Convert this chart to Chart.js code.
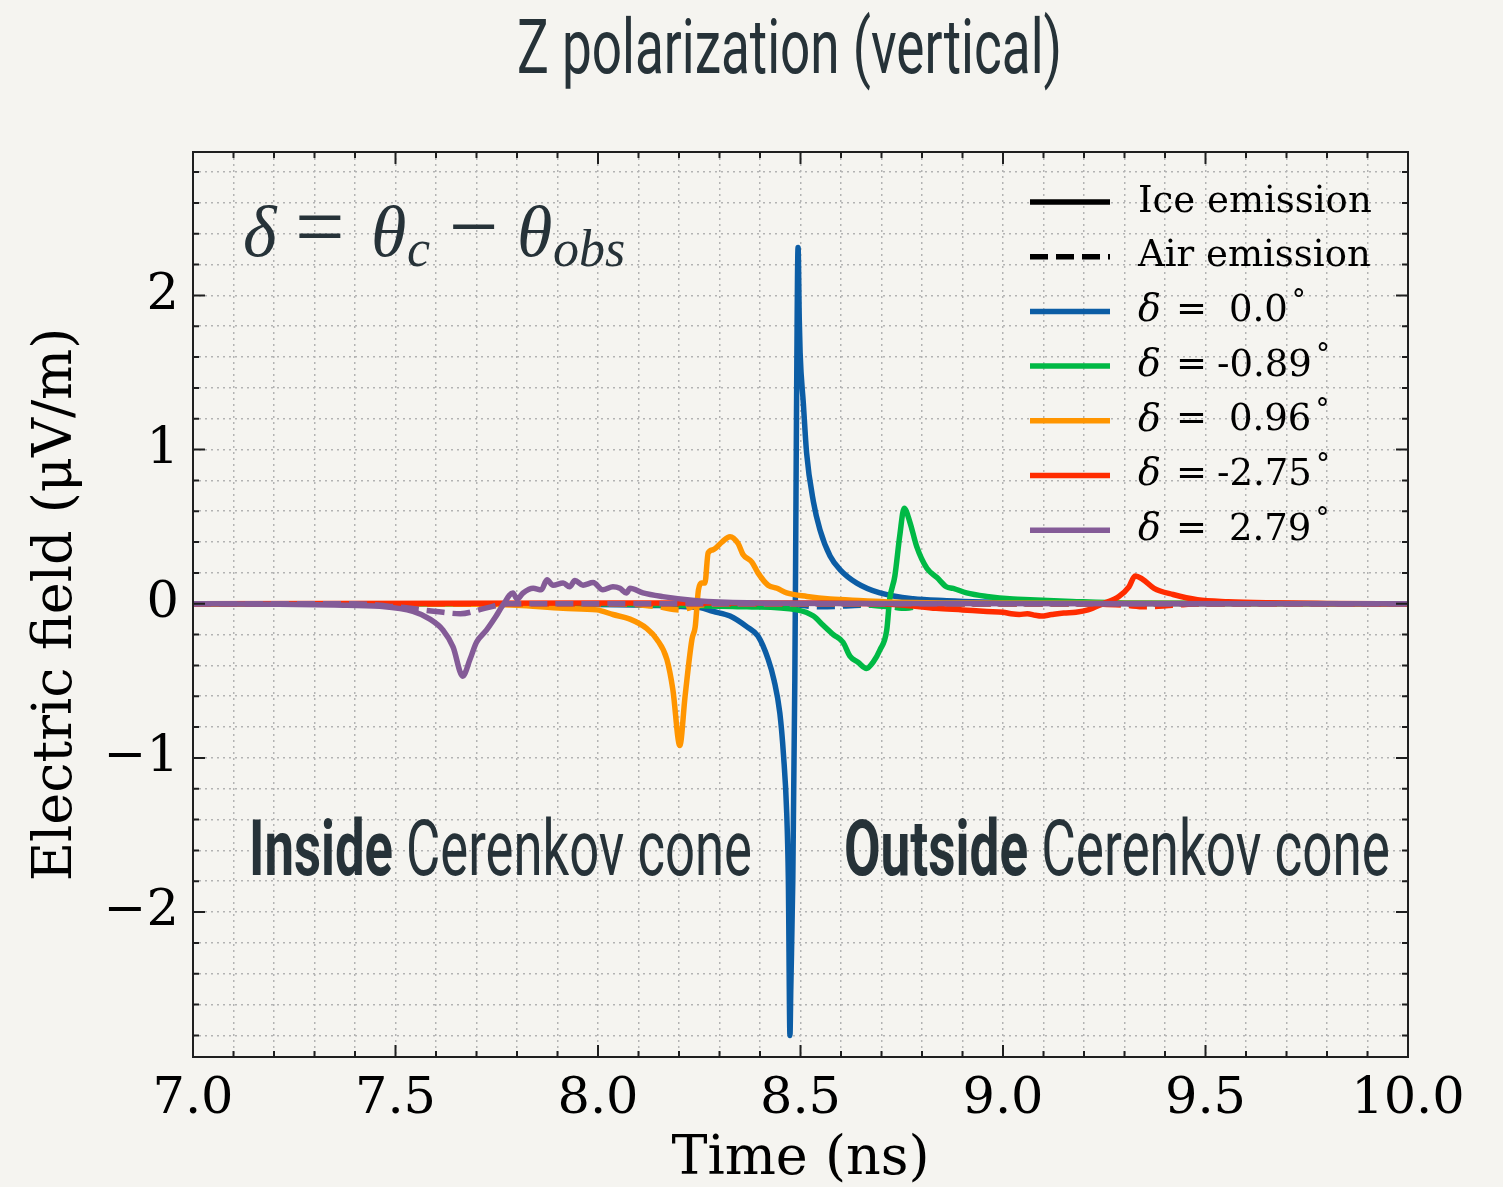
<!DOCTYPE html>
<html>
<head>
<meta charset="utf-8">
<script src="https://cdn.jsdelivr.net/npm/chart.js@4.4.1/dist/chart.umd.min.js"></script>
<style>
  html, body { margin: 0; padding: 0; background: #f5f4f0; }
  #chart { display: block; }
</style>
</head>
<body>
<canvas id="chart" width="1503" height="1187"></canvas>
<script>
// ---- data ----
var xMajorTicks = [7.0, 7.5, 8.0, 8.5, 9.0, 9.5, 10.0];
var xTickLabels = ['7.0', '7.5', '8.0', '8.5', '9.0', '9.5', '10.0'];
var yMajorTicks = [-2, -1, 0, 1, 2];
var yTickLabels = ['\u22122', '\u22121', '0', '1', '2'];

var deltaLabels = ['0.0', '-0.89', '0.96', '-2.75', '2.79'];
var deltaColors = ['#0C5DA5', '#00B945', '#FF9500', '#FF2C00', '#845B97'];

// delta = 0.0 (blue)
var blueIceT = [7.0, 7.5, 8.0, 8.15, 8.22, 8.252, 8.284, 8.326, 8.368, 8.395, 8.42, 8.435, 8.449, 8.458, 8.466, 8.470, 8.474, 8.476, 8.481, 8.486, 8.488, 8.490, 8.494, 8.497, 8.499, 8.507, 8.515, 8.532, 8.548, 8.573, 8.598, 8.639, 8.696, 8.778, 8.861, 8.95, 9.1, 9.3, 10.0];
var blueIceV = [0, 0, -0.005, -0.012, -0.02, -0.025, -0.05, -0.08, -0.15, -0.21, -0.36, -0.50, -0.71, -0.98, -1.36, -1.79, -2.80, -2.5, -1.79, -0.49, 0.3, 1.19, 2.31, 1.84, 1.63, 1.30, 0.98, 0.66, 0.48, 0.31, 0.22, 0.134, 0.07, 0.032, 0.02, 0.012, 0.005, 0.002, 0];
var blueAirT = [7.0, 8.45, 8.55, 8.65, 8.8, 10.0];
var blueAirV = [0, 0, -0.02, -0.01, 0, 0];

// delta = -0.89 (green)
var greenIceT = [7.0, 8.0, 8.2, 8.368, 8.491, 8.532, 8.556, 8.581, 8.605, 8.622, 8.642, 8.663, 8.679, 8.696, 8.713, 8.72, 8.733, 8.745, 8.756, 8.77, 8.787, 8.812, 8.837, 8.86, 8.877, 8.91, 8.96, 9.025, 9.067, 9.17, 9.3, 10.0];
var greenIceV = [0, 0, -0.01, -0.02, -0.04, -0.08, -0.14, -0.20, -0.25, -0.34, -0.38, -0.42, -0.38, -0.30, -0.17, 0.026, 0.18, 0.44, 0.62, 0.53, 0.37, 0.23, 0.17, 0.11, 0.10, 0.07, 0.047, 0.03, 0.026, 0.015, 0.005, 0];
var greenAirT = [7.0, 8.6, 8.72, 8.76, 8.8, 8.9, 10.0];
var greenAirV = [0, 0, -0.02, -0.03, -0.01, 0, 0];

// delta = 0.96 (orange)
var orangeIceT = [7.0, 7.6, 7.8, 7.914, 7.997, 8.037, 8.079, 8.12, 8.145, 8.17, 8.185, 8.202, 8.215, 8.232, 8.24, 8.248, 8.256, 8.264, 8.272, 8.284, 8.306, 8.326, 8.346, 8.358, 8.38, 8.395, 8.42, 8.442, 8.466, 8.516, 8.573, 8.655, 8.74, 8.9, 10.0];
var orangeIceV = [0, 0, -0.01, -0.03, -0.04, -0.07, -0.10, -0.16, -0.23, -0.36, -0.56, -0.92, -0.60, -0.23, -0.15, 0.09, 0.134, 0.135, 0.33, 0.35, 0.40, 0.435, 0.39, 0.32, 0.27, 0.20, 0.12, 0.10, 0.07, 0.047, 0.03, 0.02, 0.01, 0.004, 0];
var orangeAirT = [7.0, 8.05, 8.15, 8.2, 8.25, 8.35, 10.0];
var orangeAirV = [0, 0, -0.02, -0.04, -0.01, 0, 0];

// delta = -2.75 (red)
var redIceT = [7.0, 8.0, 8.5, 8.74, 8.835, 8.90, 8.96, 9.0, 9.02, 9.04, 9.06, 9.08, 9.094, 9.12, 9.15, 9.18, 9.21, 9.247, 9.286, 9.311, 9.326, 9.344, 9.373, 9.42, 9.48, 9.556, 9.65, 9.8, 10.0];
var redIceV = [0, 0.005, 0.004, -0.006, -0.03, -0.04, -0.05, -0.055, -0.065, -0.07, -0.065, -0.075, -0.08, -0.07, -0.06, -0.055, -0.04, 0.0, 0.047, 0.11, 0.18, 0.16, 0.10, 0.06, 0.026, 0.013, 0.006, 0.002, 0];
var redAirT = [7.0, 9.2, 9.3, 9.35, 9.42, 9.5, 10.0];
var redAirV = [0, 0, -0.01, -0.02, -0.01, 0, 0];

// delta = 2.79 (purple)
var purpleIceT = [7.0, 7.2, 7.35, 7.462, 7.543, 7.585, 7.617, 7.642, 7.666, 7.684, 7.70, 7.725, 7.746, 7.766, 7.79, 7.80, 7.815, 7.84, 7.86, 7.874, 7.889, 7.914, 7.93, 7.943, 7.963, 7.988, 8.012, 8.037, 8.054, 8.07, 8.079, 8.111, 8.16, 8.244, 8.37, 8.6, 10.0];
var purpleIceV = [0, -0.003, -0.008, -0.017, -0.05, -0.10, -0.17, -0.28, -0.47, -0.36, -0.25, -0.17, -0.09, -0.006, 0.07, 0.03, 0.07, 0.10, 0.09, 0.155, 0.12, 0.135, 0.11, 0.15, 0.12, 0.137, 0.09, 0.11, 0.10, 0.07, 0.10, 0.07, 0.046, 0.02, 0.006, 0.002, 0];
var purpleAirT = [7.0, 7.4, 7.5, 7.6, 7.66, 7.72, 7.78, 10.0];
var purpleAirV = [0, 0, -0.02, -0.05, -0.065, -0.03, 0, 0];

var iceSeries = [[blueIceT, blueIceV], [greenIceT, greenIceV], [orangeIceT, orangeIceV], [redIceT, redIceV], [purpleIceT, purpleIceV]];
var airSeries = [[blueAirT, blueAirV], [greenAirT, greenAirV], [orangeAirT, orangeAirV], [redAirT, redAirV], [purpleAirT, purpleAirV]];

// ---- style ----
var bgColor = '#f5f4f0';
var inkColor = '#263238';
var serif = "'DejaVu Serif', serif";
var lineW = 5.5;

var xGrid = [];
for (var i = 0; i <= 30; i++) xGrid.push(+(7 + i * 0.1).toFixed(1));
var yGrid = [];
for (var j = -14; j <= 14; j++) yGrid.push(+(j * 0.2).toFixed(1));

function isOn(v, step) {
    return Math.abs(v / step - Math.round(v / step)) < 1e-6;
}
function labelFor(v, ticks, labels) {
    for (var k = 0; k < ticks.length; k++) {
        if (Math.abs(ticks[k] - v) < 1e-6) return labels[k];
    }
    return '';
}
function toPoints(t, v) {
    return t.map(function (x, k) { return { x: x, y: v[k] }; });
}

var datasets = [];
var n = 0;
deltaLabels.forEach(function (lab, k) {
    datasets.push({
        label: 'ice ' + lab,
        data: toPoints(iceSeries[k][0], iceSeries[k][1]),
        borderColor: deltaColors[k],
        borderWidth: lineW,
        order: 100 - (n++)
    });
    datasets.push({
        label: 'air ' + lab,
        data: toPoints(airSeries[k][0], airSeries[k][1]),
        borderColor: deltaColors[k],
        borderWidth: lineW,
        borderDash: [18, 8],
        order: 100 - (n++)
    });
});

// condensed sans text, squeezed to the width it takes in the picture
function drawCondensed(ctx, parts, size, left, right, baseline) {
    var total = 0;
    parts.forEach(function (p) {
        ctx.font = p.weight + ' ' + size + 'px Roboto, sans-serif';
        p.w = ctx.measureText(p.text).width;
        total += p.w;
    });
    var s = (right - left) / total;
    ctx.save();
    ctx.translate(left, baseline);
    ctx.scale(s, 1);
    ctx.fillStyle = inkColor;
    ctx.textBaseline = 'alphabetic';
    ctx.textAlign = 'left';
    var x = 0;
    parts.forEach(function (p) {
        ctx.font = p.weight + ' ' + size + 'px Roboto, sans-serif';
        ctx.fillText(p.text, x, 0);
        x += p.w;
    });
    ctx.restore();
}

var decor = {
    id: 'decor',
    beforeDraw: function (chart) {
        var ctx = chart.ctx;
        ctx.save();
        ctx.fillStyle = bgColor;
        ctx.fillRect(0, 0, chart.width, chart.height);
        ctx.restore();
    },
    afterDatasetsDraw: function (chart) {
        var ctx = chart.ctx, a = chart.chartArea;
        var xs = chart.scales.x, ys = chart.scales.y;
        ctx.save();
        ctx.strokeStyle = '#1f1f1f';
        ctx.lineWidth = 2;
        ctx.beginPath();
        xGrid.forEach(function (v) {
            var px = xs.getPixelForValue(v);
            var len = isOn(v, 0.5) ? 12 : 6;
            ctx.moveTo(px, a.bottom); ctx.lineTo(px, a.bottom - len);
            ctx.moveTo(px, a.top); ctx.lineTo(px, a.top + len);
        });
        yGrid.forEach(function (v) {
            var py = ys.getPixelForValue(v);
            var len = isOn(v, 1) ? 12 : 6;
            ctx.moveTo(a.left, py); ctx.lineTo(a.left + len, py);
            ctx.moveTo(a.right, py); ctx.lineTo(a.right - len, py);
        });
        ctx.stroke();
        ctx.strokeRect(a.left, a.top, a.right - a.left, a.bottom - a.top);
        ctx.restore();
    },
    afterDraw: function (chart) {
        var ctx = chart.ctx, a = chart.chartArea;
        ctx.save();

        // title
        drawCondensed(ctx, [{ text: 'Z polarization (vertical)', weight: '400' }], 76, 517, 1062, 73);

        // region labels
        drawCondensed(ctx, [{ text: 'Inside', weight: '700' }, { text: ' Cerenkov cone', weight: '400' }], 77, 249, 752, a.top + 723);
        drawCondensed(ctx, [{ text: 'Outside', weight: '700' }, { text: ' Cerenkov cone', weight: '400' }], 77, 844, 1390, a.top + 723);

        // delta = theta_c - theta_obs
        ctx.fillStyle = inkColor;
        ctx.textBaseline = 'alphabetic';
        ctx.textAlign = 'left';
        var bl = a.top + 104;
        ctx.font = "italic 72px 'Liberation Serif', serif";
        ctx.fillText('\u03b4', a.left + 50, bl);
        ctx.font = "88px 'Liberation Serif', serif";
        ctx.fillText('=', a.left + 102, bl);
        ctx.font = "italic 72px 'Liberation Serif', serif";
        ctx.fillText('\u03b8', a.left + 178, bl);
        ctx.font = "italic 52px 'Liberation Serif', serif";
        ctx.fillText('c', a.left + 214, bl + 10);
        ctx.font = "88px 'Liberation Serif', serif";
        ctx.fillText('\u2212', a.left + 256, bl);
        ctx.font = "italic 72px 'Liberation Serif', serif";
        ctx.fillText('\u03b8', a.left + 324, bl);
        ctx.font = "italic 52px 'Liberation Serif', serif";
        ctx.fillText('obs', a.left + 360, bl + 10);

        // legend
        var lx = a.right - 378, ly = a.top + 50, step = 54.7;
        var rows = [{ color: '#000', dash: [], text: 'Ice emission' },
                    { color: '#000', dash: [18, 8], text: 'Air emission' }];
        deltaLabels.forEach(function (lab, k) {
            rows.push({ color: deltaColors[k], dash: [], delta: lab });
        });
        rows.forEach(function (r, k) {
            var y = ly + k * step;
            ctx.save();
            ctx.strokeStyle = r.color;
            ctx.lineWidth = lineW;
            ctx.setLineDash(r.dash);
            ctx.beginPath();
            ctx.moveTo(lx, y);
            ctx.lineTo(lx + 80, y);
            ctx.stroke();
            ctx.restore();
            ctx.fillStyle = '#000';
            ctx.textBaseline = 'middle';
            var tx = lx + 108;
            if (r.text) {
                ctx.font = '37px ' + serif;
                ctx.fillText(r.text, tx, y);
            } else {
                ctx.font = 'italic 38px ' + serif;
                ctx.fillText('\u03b4', tx, y);
                ctx.font = '37px ' + serif;
                ctx.fillText('=', tx + 38, y);
                var neg = r.delta.charAt(0) === '-';
                var nx = tx + (neg ? 79 : 91);
                ctx.fillText(r.delta, nx, y);
                var w = ctx.measureText(r.delta).width;
                ctx.font = '28px ' + serif;
                ctx.fillText('\u00b0', nx + w + 4, y - 10);
            }
        });
        ctx.restore();
    }
};

var ctxMain = document.getElementById('chart').getContext('2d');
var chart = new Chart(ctxMain, {
    type: 'line',
    data: { datasets: datasets },
    options: {
        responsive: false,
        animation: false,
        devicePixelRatio: 1,
        layout: { padding: { top: 152, right: 95, left: 0, bottom: 0 } },
        elements: {
            point: { radius: 0, hoverRadius: 0 },
            line: { tension: 0, cubicInterpolationMode: 'monotone', capBezierPoints: true }
        },
        plugins: {
            legend: { display: false },
            tooltip: { enabled: false },
            title: { display: false }
        },
        scales: {
            x: {
                type: 'linear',
                min: 7.0,
                max: 10.0,
                afterBuildTicks: function (scale) {
                    scale.ticks = xGrid.map(function (v) { return { value: v }; });
                },
                afterFit: function (scale) { scale.height = 130; },
                ticks: {
                    autoSkip: false,
                    maxRotation: 0,
                    padding: 12,
                    color: '#000',
                    font: { family: serif, size: 51 },
                    callback: function (v) { return labelFor(v, xMajorTicks, xTickLabels); }
                },
                grid: { color: '#b3b3b3', lineWidth: 1.5, drawTicks: false },
                border: { display: false, dash: [2, 4] },
                title: {
                    display: true,
                    text: 'Time (ns)',
                    color: '#000',
                    font: { family: serif, size: 54, lineHeight: 1.0 },
                    padding: { top: 0, bottom: 0 }
                }
            },
            y: {
                type: 'linear',
                min: -2.94,
                max: 2.93,
                afterBuildTicks: function (scale) {
                    scale.ticks = yGrid.map(function (v) { return { value: v }; });
                },
                afterFit: function (scale) { scale.width = 193; },
                ticks: {
                    autoSkip: false,
                    padding: 14,
                    color: '#000',
                    font: { family: serif, size: 51 },
                    callback: function (v) { return labelFor(v, yMajorTicks, yTickLabels); }
                },
                grid: { color: '#b3b3b3', lineWidth: 1.5, drawTicks: false },
                border: { display: false, dash: [2, 4] },
                title: {
                    display: true,
                    text: 'Electric field (\u03bcV/m)',
                    color: '#000',
                    font: { family: serif, size: 54, lineHeight: 1.0 },
                    padding: { top: 30, bottom: 0 }
                }
            }
        }
    },
    plugins: [decor]
});
</script>
</body>
</html>
